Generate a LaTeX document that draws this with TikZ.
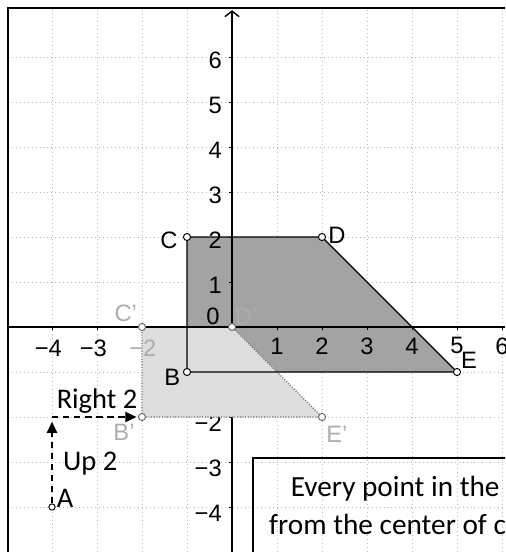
\documentclass[tikz,border=0pt]{standalone}
\usepackage{fontspec}
\setmainfont{Liberation Sans}
\newfontfamily\calfont{Carlito}
\usetikzlibrary{arrows.meta}
\definecolor{darkfill}{gray}{0.64}
\definecolor{lightfill}{gray}{0.87}
\definecolor{faint}{gray}{0.68}
\begin{document}
\begin{tikzpicture}[x=1cm,y=1cm,
  gridline/.style={black!28, dotted, line width=0.5pt},
  axisline/.style={black, line width=0.9pt},
  lab/.style={font=\fontsize{15}{17}\selectfont, inner sep=0pt},
  faintlab/.style={lab, text=faint},
  callab/.style={font=\calfont\fontsize{18}{21}\selectfont, inner sep=0pt},
  boxtext/.style={font=\calfont\fontsize{18.5}{22}\selectfont, inner sep=0pt, anchor=base west},
  ptmark/.style={circle, draw=black, fill=white, line width=0.6pt, minimum size=4.5pt, inner sep=0pt},
  faintpt/.style={ptmark, draw=black!60},
  movearrow/.style={dashed, dash pattern=on 4pt off 3pt, line width=0.8pt, -{Triangle[length=7pt,width=6.5pt]}},
  edge/.style={black, line width=0.8pt}
]
\useasboundingbox (-5.156,-5.0) rectangle (6.067,7.267);
\clip (-5.156,-5.0) rectangle (6.067,7.267);

% grid
\foreach \gx in {-4,...,6} \draw[gridline] (\gx,-5) -- (\gx,7.09);
\foreach \gy in {-4,...,6} \draw[gridline] (-4.98,\gy) -- (6.1,\gy);

% frame
\draw[black, line width=1.4pt] (-4.978,-5.1) -- (-4.978,7.089) -- (6.2,7.089);

% original figure fill
\coordinate (B) at (-1,-1);
\coordinate (C) at (-1,2);
\coordinate (D) at (2,2);
\coordinate (E) at (5,-1);
\fill[darkfill] (B) -- (C) -- (D) -- (E) -- cycle;

% y axis and ticks
\draw[axisline, -{Straight Barb[length=3.5pt,width=9pt]}] (0,-5.1) -- (0,7.04);
\foreach \ty in {-4,...,6} \draw[axisline, line width=0.6pt] (-0.07,\ty) -- (0,\ty);
\foreach \tx in {-4,...,6} \draw[axisline, line width=0.6pt] (\tx,0) -- (\tx,-0.07);

% y tick labels
\foreach \ty in {1,...,6} \node[lab, anchor=east] (yl\ty) at (-0.22,\ty-0.08) {\ty};
\node[lab, anchor=east] (yl0) at (-0.27,0.24) {0};
\foreach \ty in {2,3,4} \node[lab, anchor=east] (ylm\ty) at (-0.22,-\ty-0.14) {−\ty};

% x tick labels
\foreach \tx in {1,...,6} \node[lab] (xl\tx) at (\tx,-0.42) {\tx};
\foreach \tx in {3,4} \node[lab] (xlm\tx) at (-\tx-0.08,-0.47) {−\tx};

% image figure
\coordinate (C') at (-2,0);
\coordinate (D') at (0,0);
\coordinate (E') at (2,-2);
\coordinate (B') at (-2,-2);
\fill[lightfill] (C') -- (D') -- (E') -- (B') -- cycle;
\draw[black!55, densely dotted, line width=0.7pt] (C') -- (D') -- (E') -- (B') -- cycle;
\node[faintlab] (xlm2) at (-2+0.02,-0.47) {−2};

% x axis
\draw[axisline] (-4.98,0) -- (6.2,0);

% original outline
\draw[edge] (B) -- (C) -- (D) -- (E) -- cycle;

% points
\node[ptmark] (pB) at (B) {};
\node[ptmark] (pC) at (C) {};
\node[ptmark] (pD) at (D) {};
\node[ptmark] (pE) at (E) {};
\node[faintpt] (pC') at (C') {};
\node[faintpt] (pD') at (D') {};
\node[faintpt] (pE') at (E') {};
\node[faintpt] (pB') at (B') {};
\node[ptmark, minimum size=4pt] (pA) at (-4,-4) {};
\coordinate (corner) at (-4,-2);

% labels
\node[lab] (lC) at (-1.4,1.93) {C};
\node[lab] (lD) at (2.33,2.04) {D};
\node[lab] (lB) at (-1.33,-1.11) {B};
\node[lab] (lE) at (5.27,-0.73) {E};
\node[faintlab] (lC') at (-2.36,0.31) {C'};
\node[faintlab] (lD') at (0.31,0.24) {D'};
\node[faintlab] (lB') at (-2.4,-2.33) {B'};
\node[faintlab] (lE') at (2.33,-2.38) {E'};
\node[callab] (lA) at (-3.71,-3.8) {A};

% move arrows
\draw[movearrow, shorten >=3pt] (pA) -- (corner);
\draw[movearrow, shorten >=1pt] (corner) -- (pB');
\node[callab] (right2) at (-3.0,-1.64) {Right 2};
\node[callab, anchor=west] (up2) at (-3.76,-3.04) {Up 2};

% text box
\coordinate (boxtl) at (0.467,-2.911);
\draw[black, line width=1pt] (0.467,-5.2) -- (boxtl) -- (6.3,-2.911);
\node[boxtext] (t1) at (1.3,-3.76) {Every point in the};
\node[boxtext] (t2) at (0.82,-4.62) {from the center of c};
\end{tikzpicture}
\end{document}
